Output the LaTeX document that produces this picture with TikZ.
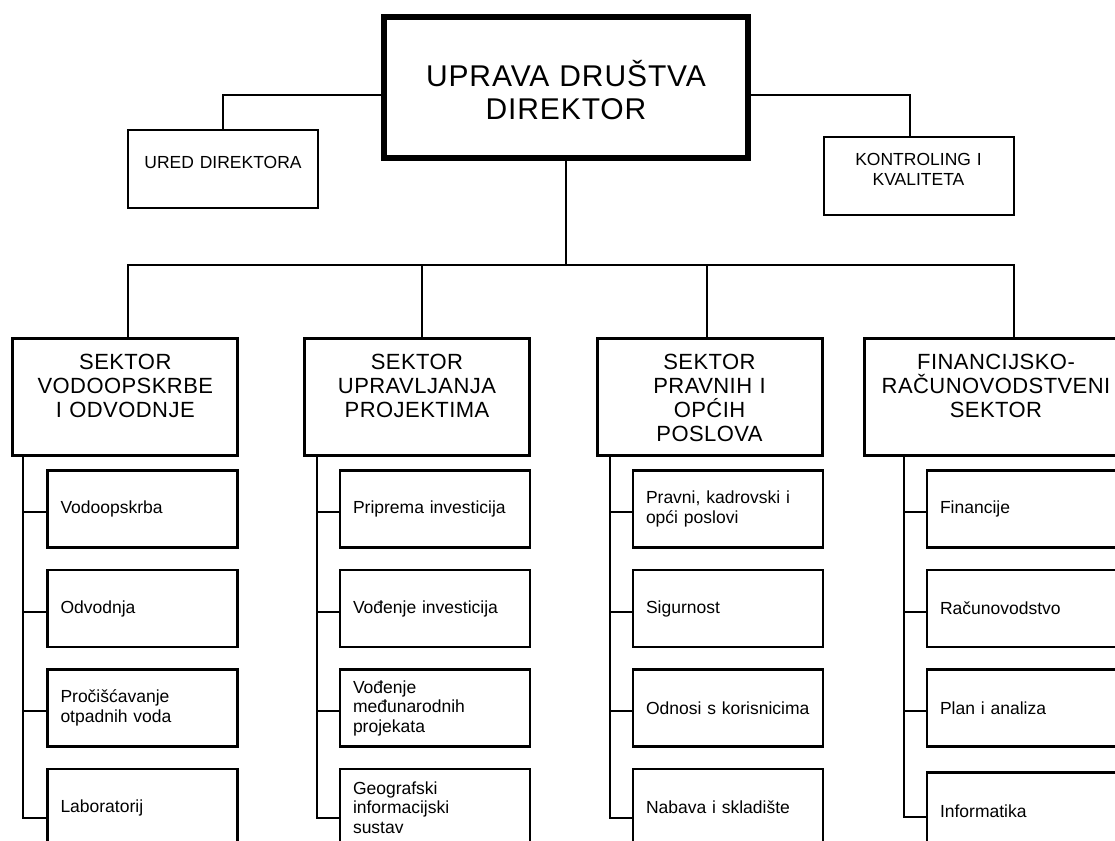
\documentclass[tikz,border=0pt]{standalone}
\usepackage{fontspec}
\setmainfont{Liberation Sans}
\begin{document}
\begin{tikzpicture}[x=1pt, y=-1pt,
    topbox/.style={draw, line width=6pt, inner sep=0pt, text width=364pt, align=center,
      text height=69.7pt, text depth=71.3pt,
      font=\fontsize{30}{33}\selectfont\addfontfeature{LetterSpace=3}},
    sidebox/.style={draw, line width=2pt, inner sep=0pt, text width=190pt, align=center,
      font=\fontsize{17.5}{20}\selectfont},
    sectorbox/.style={draw, line width=3pt, inner sep=0pt, text width=225pt, align=center,
      text height=30.8pt, text depth=86.2pt,
      font=\fontsize{22}{24}\selectfont\addfontfeature{LetterSpace=2}},
    unitbox/.style={draw, line width=2.2pt, inner xsep=13pt, text width=164pt, align=left,
      minimum height=77pt, font=\fontsize{17.5}{19.5}\selectfont},
    link/.style={line width=2pt}]
    \path[use as bounding box, fill=white] (0,0) rectangle (1115,840);

    \node[topbox] (uprava) at (566,87.5) {UPRAVA DRUŠTVA\\DIREKTOR};
    \node[sidebox, text height=38pt, text depth=40pt] (ured) at (223,169) {URED DIREKTORA};
    \node[sidebox, text height=28.5pt, text depth=49.5pt] (kontroling) at (918.5,176) {KONTROLING I\\KVALITETA};

    \node[sectorbox] (s1) at (125.3,397) {SEKTOR\\VODOOPSKRBE\\I ODVODNJE};
    \node[sectorbox] (s2) at (417,397) {SEKTOR\\UPRAVLJANJA\\PROJEKTIMA};
    \node[sectorbox] (s3) at (709.5,397) {SEKTOR\\PRAVNIH I\\OPĆIH\\POSLOVA};
    \node[sectorbox, text width=264pt] (s4) at (996,397) {FINANCIJSKO-\\RAČUNOVODSTVENI\\SEKTOR};

    \node[unitbox] (s1a) at (142.5,509) {Vodoopskrba};
    \node[unitbox] (s1b) at (142.5,608.5) {Odvodnja};
    \node[unitbox] (s1c) at (142.5,708) {Pročišćavanje\\otpadnih voda};
    \node[unitbox] (s1d) at (142.5,807.5) {Laboratorij};

    \node[unitbox] (s2a) at (435,509) {Priprema investicija};
    \node[unitbox] (s2b) at (435,608.5) {Vođenje investicija};
    \node[unitbox] (s2c) at (435,708) {Vođenje\\međunarodnih\\projekata};
    \node[unitbox] (s2d) at (435,807.5) {Geografski\\informacijski\\sustav};

    \node[unitbox] (s3a) at (728,509) {Pravni, kadrovski i\\opći poslovi};
    \node[unitbox] (s3b) at (728,608.5) {Sigurnost};
    \node[unitbox] (s3c) at (728,708) {Odnosi s korisnicima};
    \node[unitbox] (s3d) at (728,807.5) {Nabava i skladište};

    \node[unitbox] (s4a) at (1022,509) {Financije};
    \node[unitbox] (s4b) at (1022,608.5) {Računovodstvo};
    \node[unitbox] (s4c) at (1022,708) {Plan i analiza};
    \node[unitbox] (s4d) at (1022,811) {Informatika};

    \coordinate (b1) at (127.7,265);
    \coordinate (b2) at (421.7,265);
    \coordinate (b3) at (707,265);
    \coordinate (b4) at (1013.7,265);

    \draw[link] ([yshift=-7.5pt]uprava.west) -| (ured.north);
    \draw[link] ([yshift=-7.5pt]uprava.east) -| ([xshift=-8.5pt]kontroling.north);
    \draw[link] (uprava.south) -- (uprava.south |- b1);
    \draw[link] (b1 |- s1.north) -- (b1) -- (b4) -- (b4 |- s4.north);
    \draw[link] (b2) -- (b2 |- s2.north);
    \draw[link] (b3) -- (b3 |- s3.north);

    \coordinate (v1) at ([xshift=12pt]s1.south west);
    \coordinate (v2) at ([xshift=13.5pt]s2.south west);
    \coordinate (v3) at ([xshift=14.5pt]s3.south west);
    \coordinate (v4) at ([xshift=41pt]s4.south west);
    \draw[link] (v1) |- ([yshift=-3pt]s1a.west) (v1) |- ([yshift=-3pt]s1b.west) (v1) |- ([yshift=-3pt]s1c.west) (v1) |- ([yshift=-10pt]s1d.west);
    \draw[link] (v2) |- ([yshift=-3pt]s2a.west) (v2) |- ([yshift=-3pt]s2b.west) (v2) |- ([yshift=-3pt]s2c.west) (v2) |- ([yshift=-10pt]s2d.west);
    \draw[link] (v3) |- ([yshift=-3pt]s3a.west) (v3) |- ([yshift=-3pt]s3b.west) (v3) |- ([yshift=-3pt]s3c.west) (v3) |- ([yshift=-10pt]s3d.west);
    \draw[link] (v4) |- ([yshift=-3pt]s4a.west) (v4) |- ([yshift=-3pt]s4b.west) (v4) |- ([yshift=-3pt]s4c.west) (v4) |- ([yshift=-6pt]s4d.west);
\end{tikzpicture}
\end{document}
